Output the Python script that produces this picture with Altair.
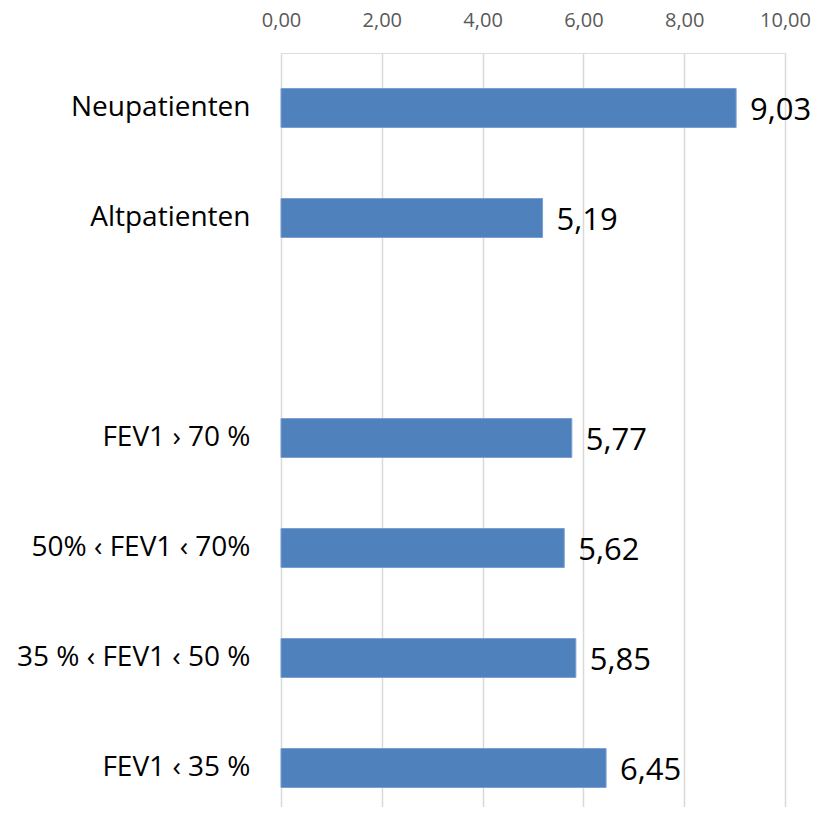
import altair as alt
import pandas as pd

# Row order (blank row separates the two groups)
categories = ["Neupatienten", "Altpatienten", "", "FEV1 › 70 %",
              "50% ‹ FEV1 ‹ 70%", "35 % ‹ FEV1 ‹ 50 %", "FEV1 ‹ 35 %"]
bar_categories = ["Neupatienten", "Altpatienten", "FEV1 › 70 %",
                  "50% ‹ FEV1 ‹ 70%", "35 % ‹ FEV1 ‹ 50 %", "FEV1 ‹ 35 %"]
values = [9.03, 5.19, 5.77, 5.62, 5.85, 6.45]
x_ticks = [0, 2, 4, 6, 8, 10]

df = pd.DataFrame({"cat": bar_categories, "v": values})

FONT = "Open Sans"

y_enc = alt.Y(
    "cat:N",
    title=None,
    scale=alt.Scale(domain=categories, range=[0, 770], paddingInner=0, paddingOuter=0),
    axis=alt.Axis(domain=False, ticks=False, tickSize=0, labelPadding=31,
                  labelFont=FONT, labelFontSize=28, labelColor="#000000",
                  labelLimit=400, grid=False),
)
x_enc = alt.X(
    "v:Q",
    title=None,
    scale=alt.Scale(domain=[0, 10], nice=False, zero=True),
    axis=alt.Axis(orient="top", values=x_ticks, domain=False, ticks=False, tickSize=0,
                  labelPadding=23, labelFont=FONT, labelFontSize=20,
                  labelFlush=False, labelBound=False, labelOverlap=False,
                  labelColor="#595959", grid=True, gridColor="#D9D9D9",
                  gridWidth=1.5,
                  labelExpr="replace(format(datum.value, '.2f'), '.', ',')"),
)

base = alt.Chart(df).encode(y=y_enc, x=x_enc)

bars = base.mark_bar(size=39, color="#4F81BD", stroke="#7A9FD0", strokeWidth=1)

labels = base.transform_calculate(
    lbl="replace(format(datum.v, '.2f'), '.', ',')"
).mark_text(
    align="left", baseline="middle", dx=14, dy=3, font=FONT, fontSize=31, color="#000000"
).encode(text="lbl:N")

chart = (bars + labels).properties(
    width=504,
    height=754,
    autosize=alt.AutoSizeParams(type="none"),
    padding={"left": 273, "top": 45, "right": 28, "bottom": 0},
).configure_view(stroke=None).configure(background="white")

chart.save("out.html", embed_options={"renderer": "svg", "actions": False})
